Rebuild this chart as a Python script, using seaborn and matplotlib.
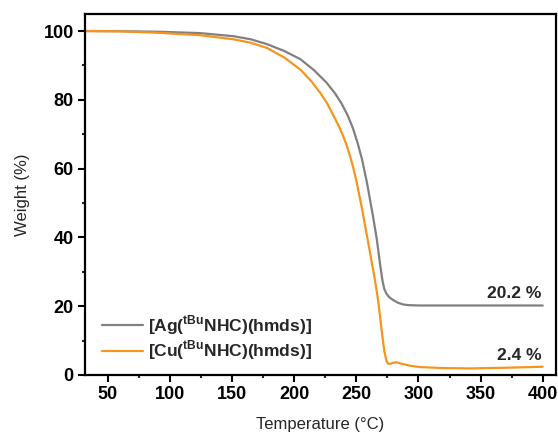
import seaborn as sns
import matplotlib.pyplot as plt
import pandas as pd
import numpy as np

sns.set_theme(style='ticks')
plt.rcParams['font.family'] = ['Liberation Sans', 'DejaVu Sans']
plt.rcParams['mathtext.fontset'] = 'custom'
plt.rcParams['mathtext.rm'] = 'Liberation Sans'
plt.rcParams['mathtext.bf'] = 'Liberation Sans:bold'

# TGA curves
temp_ag = [30, 60, 90, 124, 151, 165, 178, 192, 205, 216, 226, 233, 238, 243, 247, 251, 254.5, 258.5, 261,
           263.3, 266.5, 269, 271, 272.5, 274.3, 276.5, 279.6, 283.5, 287.7, 292, 301, 350, 400]
weight_ag = [100, 99.95, 99.8, 99.4, 98.5, 97.6, 96.2, 94.2, 91.8, 88.6, 85.0, 81.8, 79.0, 75.5, 72.0, 67.5, 62.8,
             56.0, 51.0, 46.4, 39.4, 32.5, 27.5, 25.0, 23.6, 22.6, 21.8, 21.0, 20.5, 20.3, 20.2, 20.2, 20.2]

temp_cu = [30, 60, 90, 124, 151, 165, 178, 192, 205, 214, 221, 226, 231.5, 236, 239.4, 242.5, 245, 247.5, 250,
           254.5, 259.5, 264.9, 267.5, 270.3, 272.5, 274.3, 275.5, 277, 279, 282.4, 286, 293, 301, 320, 342, 370, 400]
weight_cu = [100, 99.9, 99.5, 98.8, 97.6, 96.6, 95.1, 92.3, 88.8, 85.3, 82.0, 79.3, 75.5, 72.3, 69.5, 66.5, 63.6,
             60.3, 56.5, 48.5, 38.6, 27.8, 21.8, 13.2, 7.0, 4.0, 3.3, 3.2, 3.5, 3.7, 3.3, 2.7, 2.3, 2.0, 1.9, 2.1, 2.4]

labels = [r'[Ag($^{\mathbf{tBu}}$NHC)(hmds)]', r'[Cu($^{\mathbf{tBu}}$NHC)(hmds)]']
residues = ['20.2 %', '2.4 %']
colors = ['#808080', '#F7941D']

df = pd.concat([
    pd.DataFrame({'T': temp_ag, 'W': weight_ag, 'sample': labels[0]}),
    pd.DataFrame({'T': temp_cu, 'W': weight_cu, 'sample': labels[1]}),
])

fig = plt.figure(figsize=(5.58, 4.32), dpi=100)
ax = fig.add_axes([0.152, 0.132, 0.844, 0.836])
sns.lineplot(data=df, x='T', y='W', hue='sample', palette=colors, linewidth=1.6,
             sort=False, estimator=None, ax=ax)

ax.set_xlim(31.5, 410.5)
ax.set_ylim(0, 105)
ax.set_xticks(np.arange(50, 401, 50))
ax.set_xticks(np.arange(75, 401, 50), minor=True)
ax.set_yticks(np.arange(0, 101, 20))
ax.set_yticks(np.arange(10, 101, 20), minor=True)
for lab in ax.get_xticklabels() + ax.get_yticklabels():
    lab.set_fontweight('bold')
ax.tick_params(which='major', direction='out', length=5, width=1.5, labelsize=13, colors='black', pad=3)
ax.tick_params(which='minor', direction='out', length=2.5, width=1.5)
for s in ax.spines.values():
    s.set_linewidth(1.6)
    s.set_color('black')

ax.set_xlabel('Temperature (°C)', fontsize=12, labelpad=10)
ax.set_ylabel('Weight (%)', fontsize=12, labelpad=10)

ax.text(399, 23.8, residues[0], ha='right', va='center', fontsize=12.5, fontweight='bold')
ax.text(399, 5.6, residues[1], ha='right', va='center', fontsize=12.5, fontweight='bold')

leg = ax.legend(loc='lower left', bbox_to_anchor=(0.036, 0.035), frameon=False,
                borderpad=0, borderaxespad=0,
                handlelength=2.35, handletextpad=0.3, labelspacing=0.1,
                prop={'weight': 'bold', 'size': 12.5})

fig.savefig('out.png', dpi=100)
